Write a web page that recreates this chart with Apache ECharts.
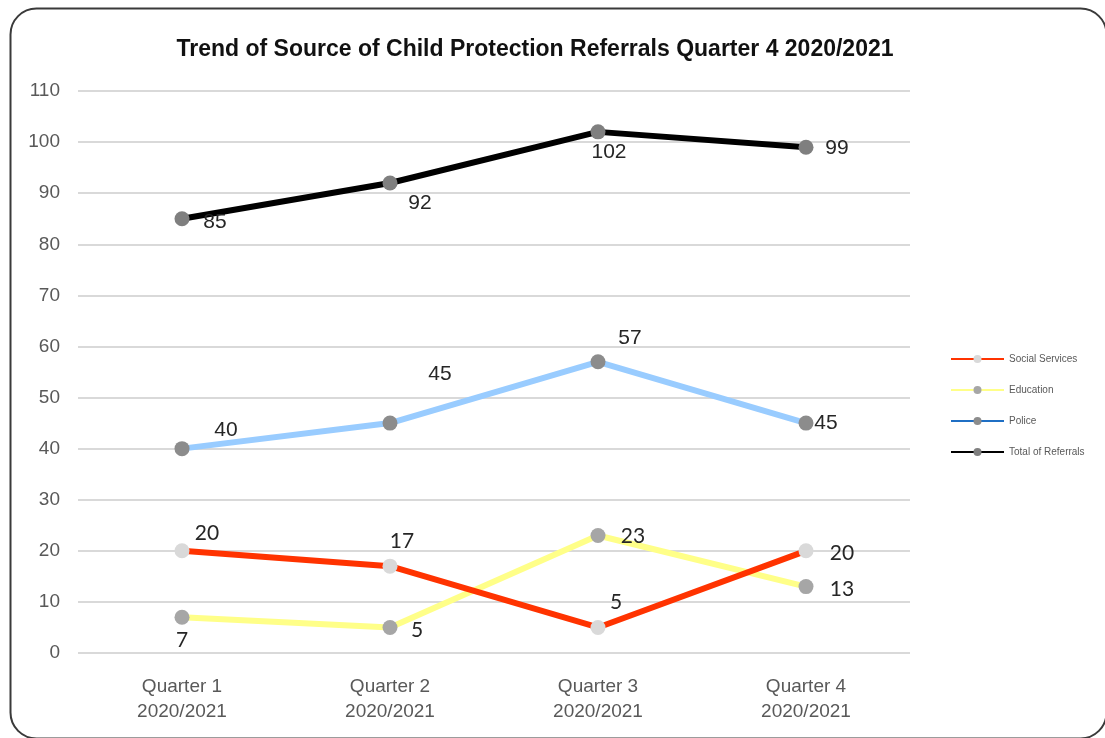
<!DOCTYPE html>
<html>
<head>
<meta charset="utf-8">
<script src="https://cdn.jsdelivr.net/npm/echarts@6/dist/echarts.min.js"></script>
<style>
html,body{margin:0;padding:0;background:#fff;}
#chart{width:1105px;height:738px;}
</style>
</head>
<body>
<div id="chart"></div>
<script>
const categories = ['Quarter 1\n2020/2021', 'Quarter 2\n2020/2021', 'Quarter 3\n2020/2021', 'Quarter 4\n2020/2021'];
const socialServices = [20, 17, 5, 20];
const education = [7, 5, 23, 13];
const police = [40, 45, 57, 45];
const totalReferrals = [85, 92, 102, 99];
const yTicks = [0, 10, 20, 30, 40, 50, 60, 70, 80, 90, 100, 110];

const NARROW = "'Liberation Sans Narrow', 'Arial Narrow', 'Liberation Sans', sans-serif";
const CAL = "Lato, 'Open Sans', sans-serif";

// label offsets (style only)
const offSocial = [[25,-18],[12,-25],[18,-25],[36,2]];
const offEdu = [[0,23],[27,3],[35,1],[36,3]];
const offPolice = [[44,-18],[50,-49],[32,-24],[20,0]];
const offTotal = [[33,3],[30,20],[11,20],[31,1]];

function pts(values, offs, font) {
  return values.map((v, i) => ({
    value: v,
    label: {
      show: true, position: 'inside', offset: offs[i],
      fontFamily: font, fontSize: 21, color: '#262626'
    }
  }));
}

const chart = echarts.init(document.getElementById('chart'));
chart.setOption({
  animation: false,
  backgroundColor: '#fff',
  title: {
    text: 'Trend of Source of Child Protection Referrals Quarter 4 2020/2021',
    left: 530, top: 33, textAlign: 'center',
    textStyle: { fontFamily: NARROW, fontWeight: 'bold', fontSize: 23, color: '#111' }
  },
  graphic: [{
    type: 'rect', left: 8, top: 6,
    shape: { width: 1096, height: 730, r: 26 },
    style: { fill: 'none', stroke: '#3a3a3a', lineWidth: 2 },
    z: 100
  }],
  legend: {
    orient: 'vertical', left: 945, top: 349,
    itemWidth: 53, itemHeight: 10, itemGap: 21,
    textStyle: { fontFamily: NARROW, fontSize: 10, color: '#595959' },
    data: [
      { name: 'Social Services' },
      { name: 'Education' },
      { name: 'Police', lineStyle: { color: '#1f6fc4' }, itemStyle: { color: '#8c8c8c' } },
      { name: 'Total of Referrals' }
    ]
  },
  grid: { left: 78, right: 195, top: 91, bottom: 85, containLabel: false },
  xAxis: {
    type: 'category', data: categories, boundaryGap: true,
    axisLine: { show: false }, axisTick: { show: false },
    axisLabel: { margin: 21, fontFamily: NARROW, fontSize: 19, lineHeight: 25, color: '#595959' }
  },
  yAxis: {
    type: 'value', min: 0, max: 110, interval: 10,
    axisLine: { show: false }, axisTick: { show: false },
    splitLine: { lineStyle: { color: '#d9d9d9', width: 2 } },
    axisLabel: { margin: 18, fontFamily: NARROW, fontSize: 19, color: '#595959',
      formatter: v => yTicks.includes(v) ? String(v) : '' }
  },
  series: [
    {
      name: 'Social Services', type: 'line', data: pts(socialServices, offSocial, CAL),
      lineStyle: { color: '#ff3300', width: 6 }, itemStyle: { color: '#d9d9d9' },
      symbol: 'circle', symbolSize: 15, z: 4
    },
    {
      name: 'Education', type: 'line', data: pts(education, offEdu, CAL),
      lineStyle: { color: '#ffff88', width: 6 }, itemStyle: { color: '#a6a6a6' },
      symbol: 'circle', symbolSize: 15, z: 3
    },
    {
      name: 'Police', type: 'line', data: pts(police, offPolice, NARROW),
      lineStyle: { color: '#99ccff', width: 6 }, itemStyle: { color: '#8c8c8c' },
      symbol: 'circle', symbolSize: 15, z: 2
    },
    {
      name: 'Total of Referrals', type: 'line', data: pts(totalReferrals, offTotal, NARROW),
      lineStyle: { color: '#000', width: 6 }, itemStyle: { color: '#7f7f7f' },
      symbol: 'circle', symbolSize: 15, z: 2
    }
  ]
});
</script>
</body>
</html>
